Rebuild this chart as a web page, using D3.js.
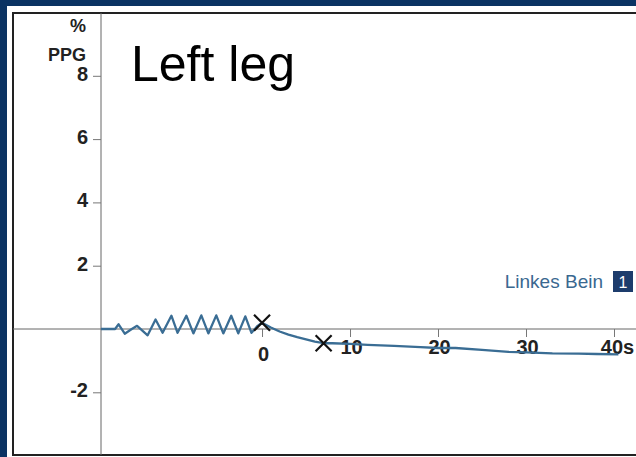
<!DOCTYPE html>
<head>
  <meta charset="utf-8">
  <style>
    body { margin: 0; background: #0b3363; }
    svg text { font-family: "Liberation Sans", Arial, sans-serif; }
    svg .tick text { font-weight: bold; font-size: 20px; fill: #222; }
    svg .tick line { stroke: #777; }
    svg .domain { stroke: #666; }
  </style>
</head>
<body>
<script src="https://d3js.org/d3.v7.min.js"></script>
<script>
  // PPG trace, left leg
  var xTicks = [0, 10, 20, 30, 40];
  var yTicks = [-2, 2, 4, 6, 8];
  var times  = [-18.3, -16.7, -16.3, -15.6, -14.8, -14.2, -13.0, -12.1, -11.3, -10.3,
                -9.6, -8.6, -7.8, -6.9, -6.1, -5.2, -4.4, -3.5, -2.7, -1.9, -1.2, -0.5,
                0, 1, 2, 3, 4, 5, 6, 7, 8, 10, 12, 15, 18, 20, 22, 25, 28, 30, 33, 36, 38, 40.5];
  var values = [0, 0, 0.15, -0.15, 0.0, 0.1, -0.2, 0.3, -0.12, 0.42,
                -0.12, 0.42, -0.14, 0.43, -0.14, 0.43, -0.14, 0.42, -0.14, 0.4, -0.12, 0.1,
                0.2, 0.05, -0.08, -0.18, -0.26, -0.33, -0.4, -0.45, -0.45, -0.47, -0.5, -0.53, -0.57, -0.6, -0.6, -0.66, -0.72, -0.74, -0.77, -0.78, -0.79, -0.8];
  var markT = [0, 7];
  var markV = [0.2, -0.45];

  var W = 636, H = 457;
  var svg = d3.select("body").append("svg")
      .attr("width", W).attr("height", H)
      .style("display", "block");

  // white panel with dark frame
  svg.append("rect").attr("x", 7).attr("y", 6).attr("width", W - 7).attr("height", H - 6)
      .attr("fill", "#fff");
  svg.append("path")
      .attr("d", "M" + W + ",13H13V455H" + W)
      .attr("fill", "none").attr("stroke", "#222").attr("stroke-width", 2);

  var x = d3.scaleLinear().domain([-18.3, 42.5]).range([101, 636]);
  var y = d3.scaleLinear().domain([-4, 10]).range([455.6, 12.5]);

  // horizontal zero line across the panel
  svg.append("line")
      .attr("x1", 13).attr("x2", W)
      .attr("y1", y(0)).attr("y2", y(0))
      .attr("stroke", "#666").attr("stroke-width", 1);

  // y axis
  var ya = svg.append("g")
      .attr("transform", "translate(" + x(-18.3) + ",0)")
      .call(d3.axisLeft(y).tickValues(yTicks).tickSize(8).tickPadding(5).tickSizeOuter(0)
        .tickFormat(function (d) { return String(d); }));
  ya.select(".domain").attr("d", "M0,13V455");
  ya.selectAll(".tick text").attr("y", -2);

  // x axis (ticks hang below zero line)
  var xa = svg.append("g")
      .attr("transform", "translate(0," + y(0) + ")")
      .call(d3.axisBottom(x).tickValues(xTicks).tickSize(8).tickSizeOuter(0)
        .tickFormat(function (d) { return d === 40 ? "40s" : d; }));
  xa.select(".domain").remove();
  xa.selectAll(".tick text")
      .attr("y", function (d) { return d === 0 ? 18 : 11; })
      .attr("dx", function (d) { return d === 40 ? 3 : 1; });

  // unit label
  svg.append("text").attr("x", 86).attr("y", 32).attr("text-anchor", "end")
      .style("font-weight", "bold").style("font-size", "18px").style("fill", "#222").text("%");
  svg.append("text").attr("x", 86).attr("y", 61).attr("text-anchor", "end")
      .style("font-weight", "bold").style("font-size", "18px").style("fill", "#222").text("PPG");

  // title
  svg.append("text").attr("x", 131).attr("y", 81)
      .style("font-size", "50px").style("fill", "#000").text("Left leg");

  // trace
  var line = d3.line()
      .x(function (d, i) { return x(times[i]); })
      .y(function (d) { return y(d); });
  svg.append("path")
      .attr("d", line(values))
      .attr("fill", "none")
      .attr("stroke", "#3a6d94")
      .attr("stroke-width", 2.3)
      .attr("stroke-linejoin", "round");

  // X markers
  var s = 8;
  svg.selectAll(".mark").data(markT).enter().append("path")
      .attr("class", "mark")
      .attr("d", function (d, i) {
        var cx = x(d), cy = y(markV[i]);
        return "M" + (cx - s) + "," + (cy - s) + "L" + (cx + s) + "," + (cy + s) +
               "M" + (cx - s) + "," + (cy + s) + "L" + (cx + s) + "," + (cy - s);
      })
      .attr("stroke", "#111").attr("stroke-width", 2.2).attr("fill", "none");

  // legend
  svg.append("text").attr("x", 603).attr("y", 288).attr("text-anchor", "end")
      .style("font-size", "19px").style("fill", "#3a6890").text("Linkes Bein");
  svg.append("rect").attr("x", 613).attr("y", 271).attr("width", 20).attr("height", 21)
      .attr("fill", "#1d3c6c");
  svg.append("text").attr("x", 623).attr("y", 288).attr("text-anchor", "middle")
      .style("font-size", "16px").style("fill", "#fff").text("1");
</script>
</body>
</html>
